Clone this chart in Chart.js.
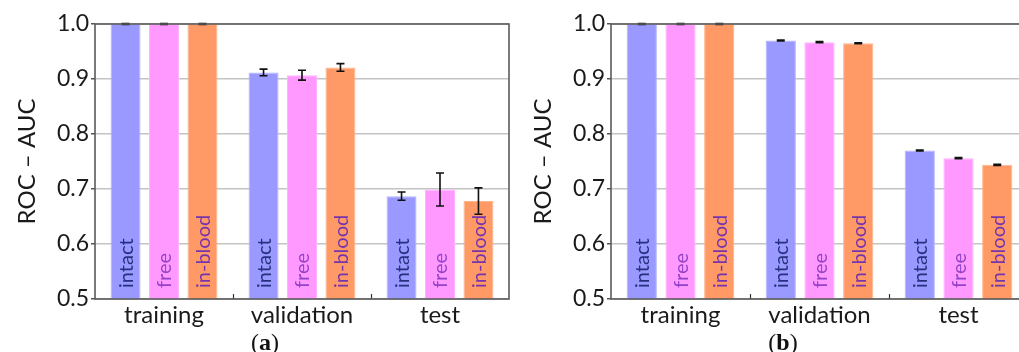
<!DOCTYPE html>
<html>
<head>
<meta charset="utf-8">
<script src="https://cdn.jsdelivr.net/npm/chart.js@4.4.1/dist/chart.umd.min.js"></script>
<style>
  html, body { margin: 0; padding: 0; background: #fff; width: 1019px; height: 352px; overflow: hidden; }
  .panel { position: absolute; top: 0; height: 352px; }
  .tag { position: absolute; top: 328px; font: 24px 'Liberation Serif', 'DejaVu Serif', serif; line-height: 28px; color: #111; transform: translateX(-50%); }
  .tag b { font-weight: bold; }
</style>
</head>
<body>
<div class="panel" style="left:0;width:520px"><canvas id="chartA" width="520" height="352"></canvas></div>
<div class="panel" style="left:516px;width:523px"><canvas id="chartB" width="523" height="352"></canvas></div>
<div class="tag" style="left:265px">(<b>a</b>)</div>
<div class="tag" style="left:783px">(<b>b</b>)</div>
<script>
const categories = ['training', 'validation', 'test'];
const seriesNames = ['intact', 'free', 'in-blood'];
const yTicks = [0.5, 0.6, 0.7, 0.8, 0.9, 1.0];

// panel (a)
const intactA = [1.0, 0.912, 0.687];
const freeA   = [1.0, 0.907, 0.699];
const bloodA  = [1.0, 0.921, 0.678];
const intactErrA = [0.001, 0.006, 0.0075];
const freeErrA   = [0.001, 0.009, 0.030];
const bloodErrA  = [0.001, 0.007, 0.024];

// panel (b)
const intactB = [1.0, 0.970, 0.770];
const freeB   = [1.0, 0.967, 0.756];
const bloodB  = [1.0, 0.965, 0.744];
const intactErrB = [0.001, 0.001, 0.001];
const freeErrB   = [0.001, 0.001, 0.001];
const bloodErrB  = [0.001, 0.001, 0.001];

const FILL = ['#9999ff', '#ff99ff', '#ff9966'];
const EDGE = ['#b3b3ff', '#ffb3ff', '#ffb38c'];
const LABEL_COLOR = ['#25307e', '#9443c9', '#7534ad'];
const FONT = "Lato, 'Open Sans', sans-serif";

const overlay = {
  id: 'overlay',
  afterDatasetsDraw(chart) {
    const { ctx, chartArea: a, scales: { x, y } } = chart;
    ctx.save();
    // error bars + rotated series labels inside the bars
    chart.data.datasets.forEach((ds, di) => {
      chart.getDatasetMeta(di).data.forEach((bar, i) => {
        const v = ds.data[i], e = ds.err[i];
        const yt = y.getPixelForValue(v + e), yb = y.getPixelForValue(v - e);
        ctx.strokeStyle = '#111'; ctx.lineWidth = 1.6;
        ctx.beginPath();
        ctx.moveTo(bar.x, yt); ctx.lineTo(bar.x, yb);
        ctx.moveTo(bar.x - 4, yt); ctx.lineTo(bar.x + 4, yt);
        ctx.moveTo(bar.x - 4, yb); ctx.lineTo(bar.x + 4, yb);
        ctx.stroke();

        ctx.save();
        ctx.translate(bar.x, a.bottom - 11);
        ctx.rotate(-Math.PI / 2);
        ctx.font = `20px ${FONT}`;
        ctx.fillStyle = LABEL_COLOR[di];
        ctx.textAlign = 'left'; ctx.textBaseline = 'middle';
        ctx.fillText(ds.label, 0, 1);
        ctx.restore();
      });
    });
    // small separator ticks between categories
    const half = (x.getPixelForValue(1) - x.getPixelForValue(0)) / 2;
    ctx.strokeStyle = '#333'; ctx.lineWidth = 1.2;
    for (let i = 0; i < categories.length - 1; i++) {
      const px = Math.round(x.getPixelForValue(i) + half) + 0.5;
      ctx.beginPath(); ctx.moveTo(px, a.bottom); ctx.lineTo(px, a.bottom - 5); ctx.stroke();
    }
    // frame
    ctx.strokeStyle = '#5a5a5a'; ctx.lineWidth = 1.6;
    ctx.strokeRect(a.left, a.top, a.right - a.left, a.bottom - a.top);
    ctx.restore();
  }
};

function makeChart(id, vals, errs) {
  return new Chart(document.getElementById(id), {
    type: 'bar',
    data: {
      labels: categories,
      datasets: seriesNames.map((name, k) => ({
        label: name, data: vals[k], err: errs[k],
        backgroundColor: FILL[k], borderColor: EDGE[k], borderWidth: 1,
        categoryPercentage: 0.836, barPercentage: 0.78,
      })),
    },
    options: {
      responsive: false, animation: false,
      layout: { padding: { top: 24, right: 11, left: 0, bottom: 0 } },
      plugins: { legend: { display: false }, tooltip: { enabled: false } },
      scales: {
        x: {
          grid: { display: false }, border: { display: false },
          ticks: { color: '#1a1a1a', font: { family: FONT, size: 24 }, padding: -6 },
          afterFit: s => { s.height = 53; },
        },
        y: {
          min: 0.5, max: 1.0,
          afterBuildTicks: s => { s.ticks = yTicks.map(v => ({ value: v })); },
          grid: { color: '#c4c4c4', lineWidth: 1.5, tickLength: 4, tickColor: '#555' },
          border: { display: false },
          ticks: { color: '#1a1a1a', font: { family: FONT, size: 23 }, padding: 2, callback: v => v.toFixed(1) },
          title: { display: true, text: 'ROC – AUC', color: '#1a1a1a', font: { family: FONT, size: 24 }, padding: { top: 13, bottom: 0 } },
          afterFit: s => { s.width = 95; },
        },
      },
    },
    plugins: [overlay],
  });
}

makeChart('chartA', [intactA, freeA, bloodA], [intactErrA, freeErrA, bloodErrA]);
makeChart('chartB', [intactB, freeB, bloodB], [intactErrB, freeErrB, bloodErrB]);
</script>
</body>
</html>
